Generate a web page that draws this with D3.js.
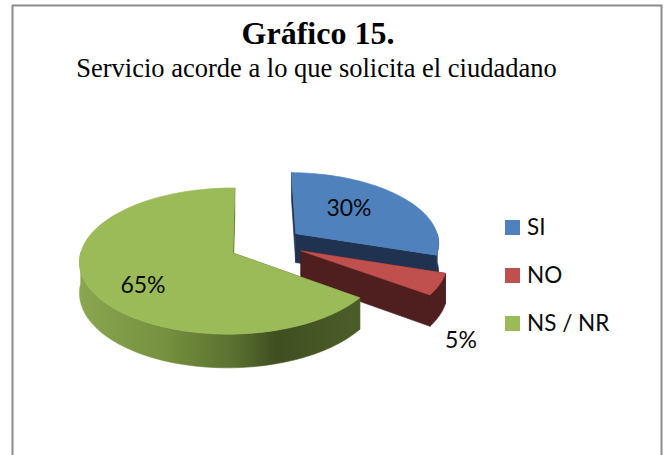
<!DOCTYPE html>
<html><head><meta charset="utf-8">
<script src="https://cdn.jsdelivr.net/npm/d3@7"></script>
<style>html,body{margin:0;padding:0;background:#fff}svg{display:block}</style>
</head><body><svg id="c" width="664" height="455"></svg>
<script>
const categories = ["SI", "NO", "NS / NR"];
const values = [30, 5, 65];
const labels = ["30%", "5%", "65%"];
const topColors = ["#4f81bd", "#c0504d", "#9bbb59"];
const sideColors = ["#1f3350", "#4f1f1f", "#4e6128"];
const explode = [[0.43, -0.278], [0.457, -0.03], [0, 0]];
const labelPos = [[349, 216], [461, 348], [143, 293]];

const svg = d3.select("#c");
const serif = "'Liberation Serif','Times New Roman',serif";
const sans = "Lato,'Open Sans',sans-serif";
const cx = 233, cy = 253, R = 150, K = 72.2, E = 0.11, EX = 0.0156, SKEW = 2, DEPTH = 30;

svg.append("rect").attr("x", 12.5).attr("y", 5.5).attr("width", 649).attr("height", 480)
  .attr("fill", "#fff").attr("stroke", "#8c8c8c").attr("stroke-width", 2);

const defs = svg.append("defs");
const grad = defs.append("linearGradient").attr("id", "gs").attr("gradientUnits", "userSpaceOnUse")
  .attr("x1", 79).attr("x2", 361).attr("y1", 0).attr("y2", 0);
[[0, "#8ba650"], [0.3, "#76913f"], [0.55, "#5a7030"], [0.7, "#3f4f20"], [1, "#4c5e28"]]
  .forEach(s => grad.append("stop").attr("offset", s[0]).attr("stop-color", s[1]));

function proj(X, Y, z) {
  const f = 1 / (1 - E * Y + EX * X);
  return [cx + R * X * f - SKEW * Y * f, cy + K * Y * f + z * DEPTH * f];
}
const line = d3.line();
const pie = d3.pie().sort(null)(values);
const samples = (a0, a1) => d3.range(0, 61).map(i => a0 + (a1 - a0) * i / 60);
const at = (o, a, r = 1) => [o[0] + r * Math.sin(a), o[1] - r * Math.cos(a)];

function addFace(pts, fill) {
  svg.append("path").attr("d", line(pts) + "Z").attr("fill", fill).attr("stroke", fill).attr("stroke-width", 0.6);
}
function drawSlice(i) {
  const p = pie[i], o = explode[i], side = i === 2 ? "url(#gs)" : sideColors[i];
  const rim = samples(p.startAngle, p.endAngle).map(a => at(o, a));
  const flat = sideColors[i];
  [p.startAngle, p.endAngle].forEach(a => {
    const e = at(o, a);
    addFace([proj(o[0], o[1], 0), proj(e[0], e[1], 0), proj(e[0], e[1], 1), proj(o[0], o[1], 1)], flat);
  });
  const front = samples(p.startAngle, p.endAngle)
    .filter(a => Math.cos(a) <= 0.02).map(a => at(o, a));
  if (front.length) {
    addFace(front.map(q => proj(q[0], q[1], 0)).concat(front.slice().reverse().map(q => proj(q[0], q[1], 1))), side);
  }
  addFace([proj(o[0], o[1], 0)].concat(rim.map(q => proj(q[0], q[1], 0))), topColors[i]);
}
[0, 1, 2].forEach(drawSlice);

labels.forEach((t, i) => svg.append("text").attr("x", labelPos[i][0]).attr("y", labelPos[i][1])
  .attr("text-anchor", "middle").attr("font-family", sans).attr("font-size", 23).attr("fill", "#0a0a0a").text(t));

const legendY = d3.scalePoint().domain(categories).range([220, 316]);
const g = svg.append("g");
categories.forEach((c, i) => {
  g.append("rect").attr("x", 505).attr("y", legendY(c)).attr("width", 15).attr("height", 15).attr("fill", topColors[i]);
  g.append("text").attr("x", 527).attr("y", legendY(c) + 15).attr("font-family", sans).attr("font-size", 22.5).attr("fill", "#0a0a0a").text(c);
});

svg.append("text").attr("x", 318).attr("y", 44).attr("text-anchor", "middle").attr("font-family", serif)
  .attr("font-weight", "bold").attr("font-size", 32).attr("fill", "#000").text("Gráfico 15.");
svg.append("text").attr("x", 316.5).attr("y", 77).attr("text-anchor", "middle").attr("font-family", serif)
  .attr("font-size", 26.5).attr("fill", "#000").text("Servicio acorde a lo que solicita el ciudadano");
</script></body></html>
